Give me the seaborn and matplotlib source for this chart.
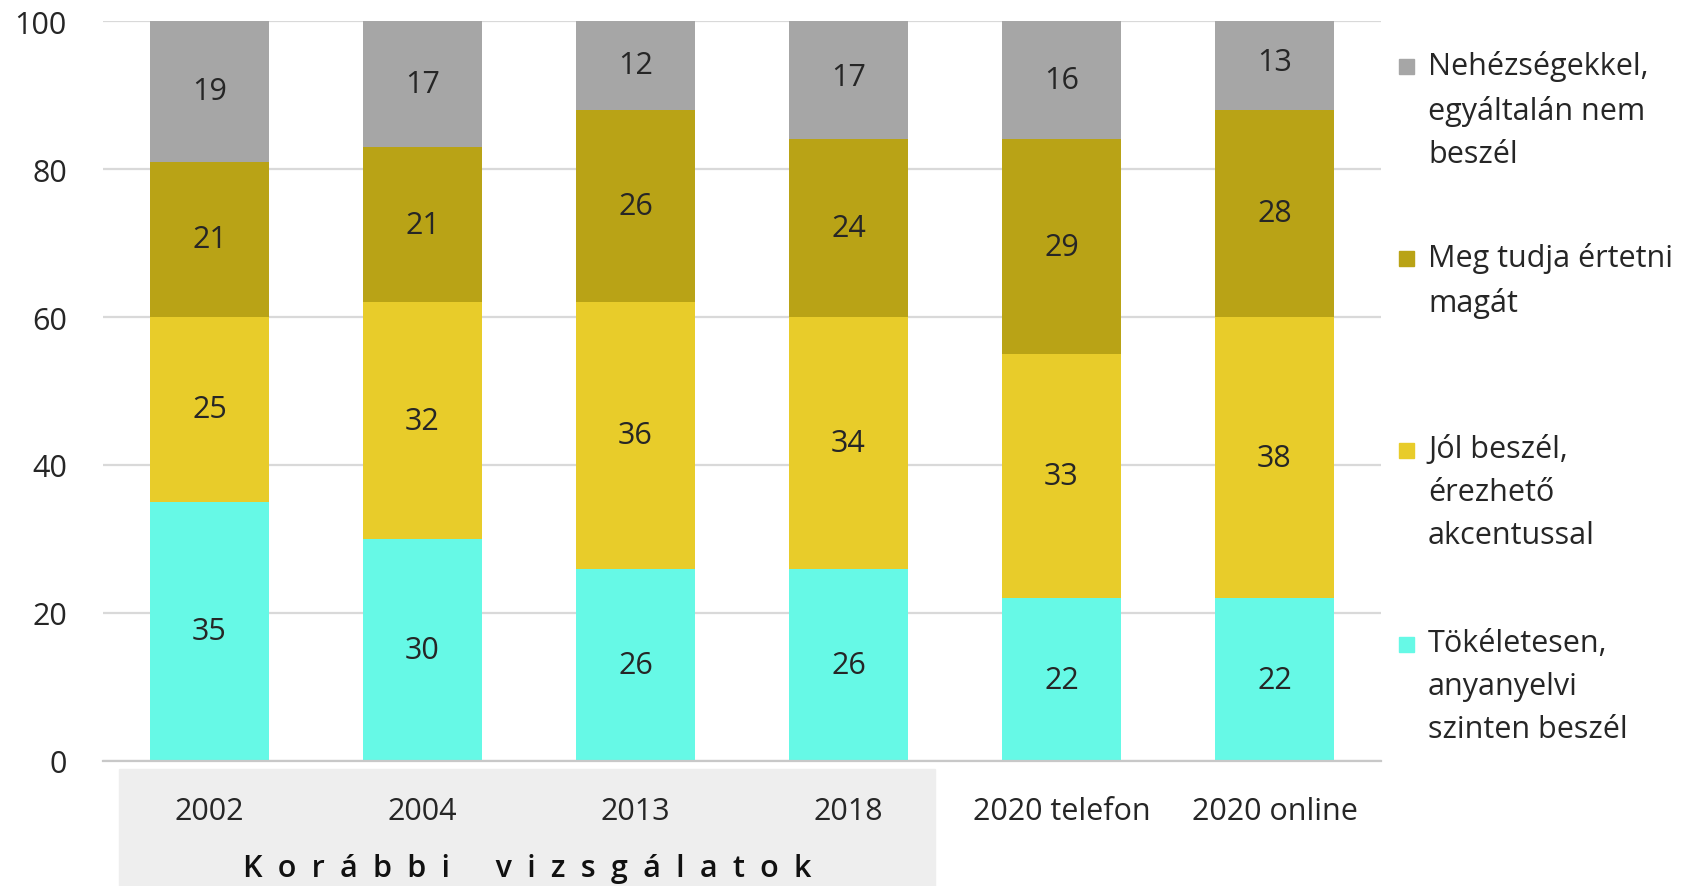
import numpy as np
import pandas as pd
import seaborn as sns
from matplotlib import pyplot as plt
from matplotlib.patches import Rectangle

categories = ["2002", "2004", "2013", "2018", "2020 telefon", "2020 online"]
tokeletesen = [35, 30, 26, 26, 22, 22]
jol_beszel = [25, 32, 36, 34, 33, 38]
meg_tudja = [21, 21, 26, 24, 29, 28]
nehezsegekkel = [19, 17, 12, 17, 16, 13]

series_names = [
    "Tökéletesen,\nanyanyelvi\nszinten beszél",
    "Jól beszél,\nérezhető\nakcentussal",
    "Meg tudja értetni\nmagát",
    "Nehézségekkel,\negyáltalán nem\nbeszél",
]
colors = ["#66f9e6", "#e8cc2a", "#b9a316", "#a6a6a6"]
# letter-spaced group caption (en spaces between letters)
group_label = "\u2002".join("Korábbi") + "\u2002" * 3 + "\u2002".join("vizsgálatok")

W, H = 1692, 887
FS = 22
sns.set_theme(style="white")
plt.rcParams["font.family"] = ["Open Sans", "DejaVu Sans"]

fig = plt.figure(figsize=(W / 100, H / 100), dpi=100)
ax = fig.add_axes([103 / W, 1 - 762 / H, (1381 - 103) / W, (762 - 22) / H])
ax.set_zorder(2)
ax.patch.set_alpha(0)

# grey box behind the older surveys
fig.patches.append(Rectangle((119 / W, 0), (935 - 119) / W, 1 - 770 / H,
                             transform=fig.transFigure, color="#eeeeee", zorder=0))

series = [tokeletesen, jol_beszel, meg_tudja, nehezsegekkel]
cum = np.cumsum(np.array(series), axis=0)

# stacked bars: draw the tallest cumulative layer first
for i in range(len(series) - 1, -1, -1):
    df = pd.DataFrame({"cat": categories, "val": cum[i]})
    sns.barplot(data=df, x="cat", y="val", color=colors[i], saturation=1,
                width=0.56, linewidth=0, ax=ax, zorder=2)

for i, vals in enumerate(series):
    base = cum[i] - np.array(vals)
    for j, v in enumerate(vals):
        ax.text(j, base[j] + v / 2, str(v), ha="center", va="center",
                fontsize=FS, color="#262626", zorder=3)

ax.set_ylim(0, 100)
ax.set_yticks([0, 20, 40, 60, 80, 100])
ax.set_xlabel("")
ax.set_ylabel("")
ax.grid(axis="y", color="#d9d9d9", lw=1.6, zorder=0)
ax.set_axisbelow(True)
for s in ["top", "right", "left"]:
    ax.spines[s].set_visible(False)
ax.spines["bottom"].set_color("#c8c8c8")
ax.spines["bottom"].set_linewidth(1.6)
ax.tick_params(axis="y", length=0, pad=26, labelsize=FS, labelcolor="#262626")
ax.tick_params(axis="x", length=0, pad=25, labelsize=FS, labelcolor="#262626")

fig.text(527 / W, 1 - 869 / H, group_label, ha="center", va="center",
         fontsize=FS, fontweight="semibold", color="#111111")

# legend, top entry first
legend_y = [67, 259, 451, 645]
for k, y in enumerate(legend_y):
    idx = len(series) - 1 - k
    fig.patches.append(Rectangle((1399 / W, 1 - (y + 8) / H), 15 / W, 15 / H,
                                 transform=fig.transFigure, color=colors[idx]))
    fig.text(1428 / W, 1 - (y - 16) / H, series_names[idx], ha="left", va="top",
             fontsize=FS, color="#262626", linespacing=1.57)

fig.savefig("out.png", dpi=100)
